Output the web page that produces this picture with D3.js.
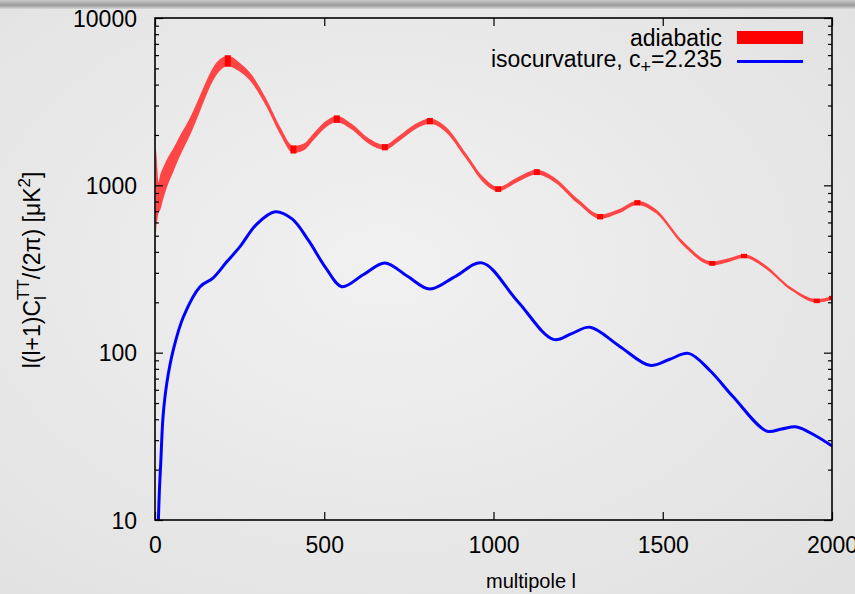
<!DOCTYPE html>
<html>
<head>
<meta charset="utf-8">
<script src="https://cdn.jsdelivr.net/npm/d3@7/dist/d3.min.js"></script>
<style>
  html, body { margin: 0; padding: 0; background: #e9e9e9; }
  svg { display: block; font-family: "Liberation Sans", Arial, Helvetica, sans-serif; }
</style>
</head>
<body>
<svg id="chart" width="855" height="594"></svg>
<script>
// adiabatic band (lower / upper edge)
const bandL  = [2, 4, 7, 10, 15, 25, 40, 54, 75, 103, 130, 153, 182, 215, 250, 281, 330, 369, 409, 440, 468, 500, 537,
                580, 630, 679, 720, 770, 812, 860, 920, 970, 1014, 1070, 1128, 1180, 1250, 1315, 1370, 1425, 1480,
                1560, 1646, 1700, 1740, 1800, 1880, 1955, 2000];
const bandLo = [480, 560, 620, 680, 708, 837, 1034, 1203, 1517, 1982, 2681, 3508, 4576, 5157, 4790, 4210, 2930, 2030, 1560, 1620, 1860, 2180, 2380,
                2160, 1780, 1630, 1830, 2170, 2330, 2070, 1430, 1040, 920, 1045, 1160, 1045, 775, 630, 680, 764, 680,
                437, 333, 351, 369, 322, 235, 199, 207];
const bandHi = [1700, 1550, 1260, 1040, 1150, 1292, 1494, 1662, 1999, 2522, 3339, 4268, 5437, 5950, 5410, 4710, 3250, 2250, 1720, 1780, 2040, 2380, 2600,
                2340, 1920, 1750, 1970, 2330, 2510, 2230, 1540, 1120, 980, 1115, 1240, 1115, 825, 670, 720, 810, 720,
                463, 351, 369, 387, 338, 245, 209, 217];
// darker marks sitting on the band extrema
const markL = [215, 409, 537, 679, 812, 1014, 1128, 1315, 1425, 1646, 1740, 1955, 2000];

// isocurvature curve
const isoL = [10, 13, 17, 24, 35, 54, 84, 133, 172, 212, 251, 300, 355, 405, 453, 505, 552, 615, 679, 745, 812, 889,
              966, 1071, 1177, 1231, 1285, 1373, 1462, 1519, 1576, 1640, 1708, 1807, 1851, 1896, 1950, 2000];
const isoV = [10, 15, 22, 42, 66, 104, 164, 248, 280, 349, 430, 585, 695, 630, 470, 320, 248, 292, 344, 287, 240, 287,
              344, 203, 120, 130, 142, 109, 84, 91, 99, 78, 54.5, 34, 35, 36, 32, 27.7];

const xTicks = [0, 500, 1000, 1500, 2000];
const yTicks = [10, 100, 1000, 10000];
const yMinor = [20, 30, 40, 50, 60, 70, 80, 90, 200, 300, 400, 500, 600, 700, 800, 900,
                2000, 3000, 4000, 5000, 6000, 7000, 8000, 9000];
const legendNames = ["adiabatic", "isocurvature, c"];

const svg = d3.select("#chart");
const W = 855, H = 594;
const m = {left: 155, right: 832, top: 18, bottom: 520};

// background
const defs = svg.append("defs");
const bg = defs.append("radialGradient").attr("id", "bg").attr("cx", "45%").attr("cy", "45%").attr("r", "75%");
bg.append("stop").attr("offset", "0%").attr("stop-color", "#f1f1f1");
bg.append("stop").attr("offset", "100%").attr("stop-color", "#e2e1e1");
const bar = defs.append("linearGradient").attr("id", "bar").attr("x1", 0).attr("x2", 0).attr("y1", 0).attr("y2", 1);
bar.append("stop").attr("offset", "0%").attr("stop-color", "#c9c9c9");
bar.append("stop").attr("offset", "60%").attr("stop-color", "#9b9b9b");
bar.append("stop").attr("offset", "100%").attr("stop-color", "#d8d8d8");
defs.append("clipPath").attr("id", "plotclip").append("rect")
    .attr("x", m.left).attr("y", m.top).attr("width", m.right - m.left).attr("height", m.bottom - m.top);

svg.append("rect").attr("width", W).attr("height", H).attr("fill", "url(#bg)");
svg.append("rect").attr("width", W).attr("height", 9).attr("fill", "url(#bar)");

const x = d3.scaleLinear().domain([0, 2000]).range([m.left, m.right]);
const y = d3.scaleLog().domain([10, 10000]).range([m.bottom, m.top]);

const plot = svg.append("g").attr("clip-path", "url(#plotclip)");

// adiabatic band
const band = bandL.map((l, i) => ({l: l, lo: bandLo[i], hi: bandHi[i]}));
plot.append("path")
    .datum(band)
    .attr("fill", "#ff4646")
    .attr("d", d3.area()
        .x(d => x(d.l))
        .y0(d => y(d.lo))
        .y1(d => y(d.hi))
        .curve(d3.curveMonotoneX));

plot.selectAll("rect.mark")
    .data(markL.map(l => band.find(b => b.l === l)))
    .enter()
    .append("rect")
    .attr("class", "mark")
    .attr("x", d => x(d.l) - 3)
    .attr("width", 6)
    .attr("y", d => y(d.hi) - 0.5)
    .attr("height", d => y(d.lo) - y(d.hi) + 1)
    .attr("fill", "#ff0000");

// isocurvature line
plot.append("path")
    .datum(isoL.map((l, i) => ({l: l, v: isoV[i]})))
    .attr("fill", "none")
    .attr("stroke", "#0000ff")
    .attr("stroke-width", 3)
    .attr("d", d3.line()
        .x(d => x(d.l))
        .y(d => y(d.v))
        .curve(d3.curveCatmullRom.alpha(0.5)));

// axes, gnuplot style: ticks inside, mirrored
const fmt = d => String(d);
function styleAxis(g) {
    g.select(".domain").remove();
    g.selectAll(".tick line").attr("stroke", "#000").attr("stroke-width", 1.2);
    g.selectAll(".tick text").attr("fill", "#000").attr("font-size", 23)
        .attr("font-family", "\"Liberation Sans\", Arial, sans-serif");
}
svg.append("g").attr("transform", `translate(0,${m.bottom})`)
    .call(d3.axisBottom(x).tickValues(xTicks).tickFormat(fmt).tickSize(-8).tickPadding(17))
    .call(styleAxis);
svg.append("g").attr("transform", `translate(0,${m.top})`)
    .call(d3.axisTop(x).tickValues(xTicks).tickFormat("").tickSize(-8))
    .call(styleAxis);
svg.append("g").attr("transform", `translate(${m.left},0)`)
    .call(d3.axisLeft(y).tickValues(yTicks).tickFormat(fmt).tickSize(-8).tickPadding(18))
    .call(styleAxis)
    .selectAll(".tick text").attr("dy", "0.36em");
svg.append("g").attr("transform", `translate(${m.left},0)`)
    .call(d3.axisLeft(y).tickValues(yMinor).tickFormat("").tickSize(-4))
    .call(styleAxis);
svg.append("g").attr("transform", `translate(${m.right},0)`)
    .call(d3.axisRight(y).tickValues(yTicks).tickFormat("").tickSize(-8))
    .call(styleAxis);
svg.append("g").attr("transform", `translate(${m.right},0)`)
    .call(d3.axisRight(y).tickValues(yMinor).tickFormat("").tickSize(-4))
    .call(styleAxis);

svg.append("rect")
    .attr("x", m.left).attr("y", m.top)
    .attr("width", m.right - m.left).attr("height", m.bottom - m.top)
    .attr("fill", "none").attr("stroke", "#000").attr("stroke-width", 1.6);

// axis titles
svg.append("text")
    .attr("x", 531).attr("y", 588)
    .attr("text-anchor", "middle").attr("font-size", 20)
    .text("multipole l");

const yl = svg.append("text")
    .attr("transform", "translate(40,270) rotate(-90)")
    .attr("text-anchor", "middle").attr("font-size", 23);
yl.append("tspan").text("l(l+1)C");
yl.append("tspan").attr("font-size", 17).attr("dy", 6).text("l");
yl.append("tspan").attr("font-size", 17).attr("dx", -3.8).attr("dy", -17).text("TT");
yl.append("tspan").attr("dy", 11).text("/(2π) [μK");
yl.append("tspan").attr("font-size", 17).attr("dy", -10).text("2");
yl.append("tspan").attr("dy", 10).text("]");

// legend
const lg = svg.append("g").attr("font-size", 23);
lg.append("text").attr("x", 722).attr("y", 46).attr("text-anchor", "end").text(legendNames[0]);
lg.append("rect").attr("x", 737).attr("y", 31).attr("width", 66).attr("height", 13).attr("fill", "#ff0000");
const iso = lg.append("text").attr("x", 722).attr("y", 67).attr("text-anchor", "end");
iso.append("tspan").text(legendNames[1]);
iso.append("tspan").attr("font-size", 18).attr("dy", 6).text("+");
iso.append("tspan").attr("dy", -6).text("=2.235");
lg.append("line").attr("x1", 737).attr("x2", 803).attr("y1", 61.5).attr("y2", 61.5)
    .attr("stroke", "#0000ff").attr("stroke-width", 3);
</script>
</body>
</html>
